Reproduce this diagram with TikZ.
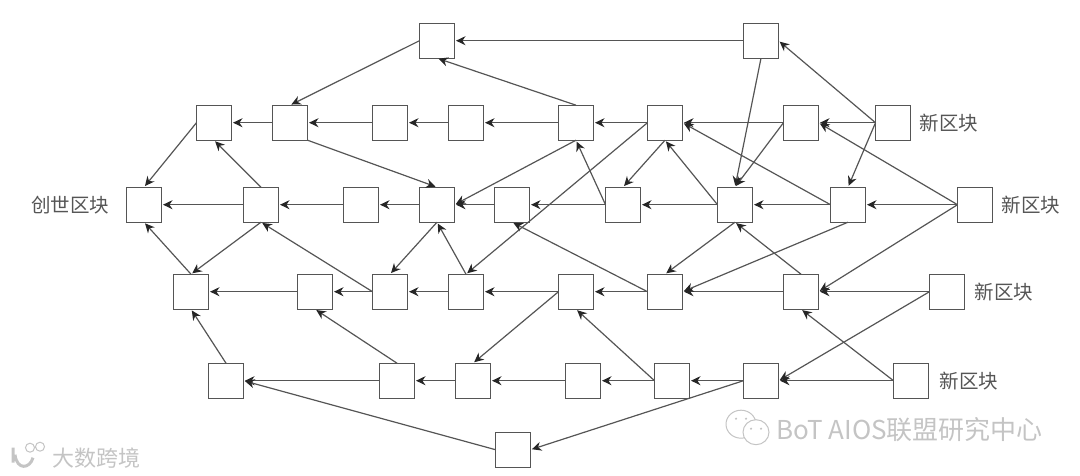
\documentclass[tikz,border=0pt]{standalone}
\usepackage{fontspec}
\newfontfamily\cjk{Noto Sans CJK SC}
\usetikzlibrary{arrows.meta,positioning}
\definecolor{edgegray}{HTML}{555555}
\definecolor{markgray}{HTML}{C4C4C4}
\tikzset{
%Define standard arrow tip
>={Stealth[length=9.5pt,width=9pt,color=black!85]},
%Define style for blocks, labels and links
block/.style={draw=edgegray, line width=1.2pt, fill=white, minimum size=35pt, inner sep=0pt, outer sep=0pt},
blocktag/.style={font=\cjk\fontsize{19.5}{19.5}\selectfont, text=edgegray, inner sep=0pt},
link/.style={->, draw=edgegray, line width=1.2pt, shorten >=1.5pt},
watermark/.style={font=\cjk\fontsize{26}{26}\selectfont, text=markgray, inner sep=0pt},
markline/.style={draw=markgray, line width=1pt, fill=white},
}

\begin{document}
\begin{tikzpicture}[x=1pt,y=-1pt]
\useasboundingbox (0,-0.7) rectangle (1080,475.3);
% Top row
\node[block] (t1) at (437,40) {};
\node[block] (t2) at (761,40) {};
% Second row
\node[block] (a1) at (214,122) {};
\node[block] (a2) at (290,122) {};
\node[block] (a3) at (390,122) {};
\node[block] (a4) at (466,122) {};
\node[block] (a5) at (576,122) {};
\node[block] (a6) at (665,122) {};
\node[block] (a7) at (801,122) {};
\node[block] (a8) at (893,122) {};
% Third row
\node[block] (b0) at (144,204) {};
\node[block] (b1) at (261,204) {};
\node[block] (b2) at (361,204) {};
\node[block] (b3) at (437,204) {};
\node[block] (b4) at (512,204) {};
\node[block] (b5) at (623,204) {};
\node[block] (b6) at (735,204) {};
\node[block] (b7) at (848,204) {};
\node[block] (b8) at (975,204) {};
% Fourth row
\node[block] (c1) at (191,291) {};
\node[block] (c2) at (315,291) {};
\node[block] (c3) at (390,291) {};
\node[block] (c4) at (466,291) {};
\node[block] (c5) at (576,291) {};
\node[block] (c6) at (665,291) {};
\node[block] (c7) at (801,291) {};
\node[block] (c8) at (947,291) {};
% Fifth row and the bottom block
\node[block] (d1) at (226,380) {};
\node[block] (d2) at (397,380) {};
\node[block] (d3) at (473,380) {};
\node[block] (d4) at (583,380) {};
\node[block] (d5) at (672,380) {};
\node[block] (d6) at (761,380) {};
\node[block] (d7) at (911,380) {};
\node[block] (e1) at (513,449) {};
% Labels
\node[blocktag, left=17pt of b0] (genesis) {创世区块};
\node[blocktag, right=9pt of a8] (new1) {新区块};
\node[blocktag, right=9pt of b8] (new2) {新区块};
\node[blocktag, right=10pt of c8] (new3) {新区块};
\node[blocktag, right=11pt of d7] (new4) {新区块};
% Horizontal links
\draw[link] (t2.west) -- (t1.east);
\draw[link] (a8.west) -- (a7.east);
\draw[link] (a7.west) -- (a6.east);
\draw[link] (a6.west) -- (a5.east);
\draw[link] (a5.west) -- (a4.east);
\draw[link] (a4.west) -- (a3.east);
\draw[link] (a3.west) -- (a2.east);
\draw[link] (a2.west) -- (a1.east);
\draw[link] (b8.west) -- (b7.east);
\draw[link] (b7.west) -- (b6.east);
\draw[link] (b6.west) -- (b5.east);
\draw[link] (b5.west) -- (b4.east);
\draw[link] (b4.west) -- (b3.east);
\draw[link] (b3.west) -- (b2.east);
\draw[link] (b2.west) -- (b1.east);
\draw[link] (b1.west) -- (b0.east);
\draw[link] (c8.west) -- (c7.east);
\draw[link] (c7.west) -- (c6.east);
\draw[link] (c6.west) -- (c5.east);
\draw[link] (c5.west) -- (c4.east);
\draw[link] (c4.west) -- (c3.east);
\draw[link] (c3.west) -- (c2.east);
\draw[link] (c2.west) -- (c1.east);
\draw[link] (d7.west) -- (d6.east);
\draw[link] (d6.west) -- (d5.east);
\draw[link] (d5.west) -- (d4.east);
\draw[link] (d4.west) -- (d3.east);
\draw[link] (d3.west) -- (d2.east);
\draw[link] (d2.west) -- (d1.east);
% Links from the top rows
\draw[link] (t1.west) -- (a2.north);
\draw[link] (a5.north) -- (t1.south);
\draw[link] (t2.south) -- (b6.north);
\draw[link] (a8.west) -- (t2.east);
\draw[link] (a1.west) -- (b0.north);
\draw[link] (b1.north) -- (a1.south);
\draw[link] (a2.south east) -- (b3.north);
\draw[link] (a8.west) -- (b7.north);
\draw[link] (a7.west) -- (b6.north);
\draw[link] (b8.west) -- (a7.east);
\draw[link] (b7.west) -- (a6.east);
\draw[link] (a6.south) -- (b5.north);
\draw[link] (b6.west) -- (a6.south);
\draw[link] (b5.west) -- (a5.south);
\draw[link] (a5.south) -- (b3.east);
\draw[link] (a6.west) -- (c4.north);
% Links between the middle rows
\draw[link] (b3.south) -- (c3.north);
\draw[link] (c4.north) -- (b3.south);
\draw[link] (b1.south) -- (c1.north);
\draw[link] (c1.north) -- (b0.south);
\draw[link] (c3.west) -- (b1.south);
\draw[link] (c6.west) -- (b4.south);
\draw[link] (b6.south) -- (c6.north);
\draw[link] (b7.south) -- (c6.east);
\draw[link] (c7.north) -- (b6.south);
\draw[link] (b8.west) -- (c7.east);
% Links of the lower rows
\draw[link] (c8.west) -- (d6.east);
\draw[link] (d7.west) -- (c7.south);
\draw[link] (d1.north) -- (c1.south);
\draw[link] (d2.north) -- (c2.south);
\draw[link] (c5.west) -- (d3.north);
\draw[link] (d5.west) -- (c5.south);
\draw[link] (d6.west) -- (e1.east);
\draw[link] (e1.west) -- (d1.east);
% Watermarks
\node[watermark, anchor=west] (mark1) at (776,429) {BoT AIOS联盟研究中心};
\draw[markline] (741,423.5) ellipse (15 and 14);
\draw[markline] (756,431.5) ellipse (13 and 12.5);
\fill[markgray] (736,418) circle (1.2) (746,418) circle (1.2) (751,428) circle (1.2) (761,428) circle (1.2);
\node[watermark, anchor=west, font=\cjk\fontsize{22}{22}\selectfont] (mark2) at (52,457) {大数跨境};
\draw[draw=markgray, line width=3pt] (13,447) -- (13,462) (15,454) .. controls (17,470) and (30,468) .. (33,457);
\draw[draw=markgray, line width=1pt] (30,447) circle (4.5) (40,446) circle (4.5);
\end{tikzpicture}
\end{document}
